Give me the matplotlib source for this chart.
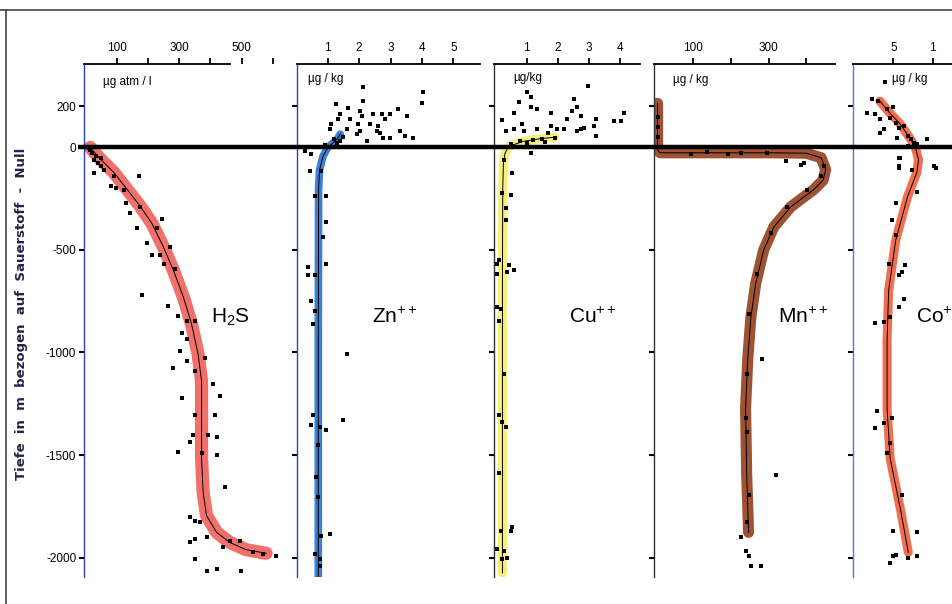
import matplotlib.pyplot as plt
from matplotlib.lines import Line2D

plt.rcParams['font.family'] = ['Liberation Sans', 'DejaVu Sans']
plt.rcParams['mathtext.fontset'] = 'custom'
plt.rcParams['mathtext.rm'] = 'Liberation Sans'
plt.rcParams['mathtext.it'] = 'Liberation Sans:italic'
plt.rcParams['axes.unicode_minus'] = False

W, H = 952, 604

# depth axis (m, relative to the oxygen zero)
depth_ticks = [200, 0, -500, -1000, -1500, -2000]
depth_labels = ['200', '0', '-500', '-1000', '-1500', '-2000']
depth_label = 'Tiefe  in  m  bezogen  auf  Sauerstoff  -  Null'

# H2S  (µg atm / l)
h2s_curve_val = [15, 49, 92, 134, 176, 213, 250, 282, 314, 340, 361, 372, 372, 372, 377, 388, 420, 462, 515, 579]
h2s_curve_depth = [0, -59, -124, -206, -288, -371, -486, -600, -731, -862, -1009, -1140, -1353, -1517, -1681, -1796, -1877, -1926, -1962, -1979]
h2s_dot_val = [10, 15, 20, 35, 50, 28, 39, 49, 60, 28, 92, 171, 81, 97, 123, 129, 144, 176, 245, 166, 229,
               197, 213, 240, 271, 250, 287, 181, 266, 298, 324, 351, 308, 324, 303, 324, 282, 383, 351,
               409, 308, 430, 351, 414, 345, 393, 420, 335, 298, 420, 372, 446, 335, 351, 367, 388, 351,
               335, 441, 494, 351, 388, 420, 499, 610, 536, 568, 462]
h2s_dot_depth = [-5, -10, -25, -40, -50, -59, -75, -92, -108, -124, -141, -141, -190, -198, -206, -272, -321,
                 -288, -351, -395, -395, -468, -526, -526, -485, -567, -591, -722, -771, -821, -845, -845,
                 -903, -935, -993, -1042, -1075, -1025, -1091, -1156, -1222, -1214, -1304, -1304, -1402,
                 -1402, -1410, -1435, -1484, -1500, -1492, -1656, -1803, -1820, -1828, -1902, -1910, -1926,
                 -1951, -1918, -2008, -2066, -2057, -2066, -1992, -1975, -1984, -1918]

# Zn++  (µg/kg)
zn_curve_val = [1.4, 1.3, 1.15, 1.0, 0.85, 0.74, 0.71, 0.70, 0.70]
zn_curve_depth = [65, 40, 20, 0, -43, -110, -200, -1000, -2095]
zn_dot_val = [2.14, 2.14, 4.05, 4.00, 1.28, 1.66, 2.03, 1.39, 2.08, 2.45, 2.72, 2.99, 3.25, 3.52, 1.34, 1.71,
              2.83, 1.12, 1.98, 2.35, 2.61, 1.60, 1.07, 2.03, 2.56, 3.31, 3.47, 2.77, 2.99, 3.73, 1.92, 2.24,
              2.67, 1.2, 1.4, 1.5, 1.3, 0.9,
              0.27, 0.48, 0.43, 0.80, 0.96, 0.59, 0.96, 0.86, 0.96, 0.38, 0.38, 0.59, 0.48, 0.59, 0.54,
              1.60, 1.50, 0.54, 0.48, 0.75, 0.96, 0.70, 0.64, 0.70, 1.07, 0.80, 0.59, 0.75, 0.75]
zn_dot_depth = [293, 228, 269, 219, 211, 192, 179, 162, 151, 162, 162, 162, 187, 151, 138, 141, 141, 113,
                113, 113, 105, 88, 88, 80, 80, 80, 56, 48, 48, 48, 64, 31, 72, 40, 30, 50, 20, 10,
                -18, -34, -116, -116, -239, -239, -362, -436, -567, -583, -624, -624, -747, -796, -862,
                -1009, -1328, -1304, -1353, -1361, -1378, -1451, -1607, -1705, -1885, -1894, -1984,
                -2008, -2041]

# Cu++  (µg/kg)
cu_curve_val = [1.9, 1.4, 0.9, 0.55, 0.4, 0.3, 0.25, 0.23, 0.22, 0.22]
cu_curve_depth = [50, 42, 30, 12, 0, -30, -80, -200, -600, -2075]
cu_dot_val = [1.02, 0.75, 1.13, 2.96, 1.13, 1.34, 0.59, 1.77, 2.53, 2.63, 2.47, 0.22, 2.31, 2.74, 3.23, 3.82,
              4.03, 4.14, 0.86, 0.32, 0.59, 0.91, 1.34, 1.77, 1.99, 2.20, 2.74, 2.85, 3.17, 3.23, 2.63,
              1.67, 0.8, 1.2, 1.5, 1.0, 1.9, 0.5, 1.6,
              0.27, 0.54, 0.22, 0.48, 0.32, 0.32, 0.11, 0.03, 0.43, 0.59, 0.38, 0.03, 0.05, 0.16, 0.11,
              0.27, 0.11, 0.22, 0.32, 0.11, 0.16, 0.54, 0.48, 0.03, 0.27, 0.38, 0.22, 1.13]
cu_dot_depth = [269, 223, 244, 301, 195, 187, 170, 170, 236, 195, 179, 134, 141, 154, 141, 129, 129, 167,
                113, 80, 88, 80, 88, 105, 88, 88, 92, 97, 105, 56, 80, 72, 30, 35, 40, 20, 45, 15, 25,
                -59, -124, -223, -231, -296, -354, -550, -567, -575, -600, -608, -616, -780, -788, -845,
                -1107, -1304, -1337, -1361, -1590, -1869, -1853, -1869, -1959, -1967, -2000, -2008, -26]

# Mn++  (µg/kg)
mn_curve_val = [5, 5, 6, 12, 100, 200, 300, 400, 440, 452, 445, 420, 359, 314, 287, 266, 253, 245, 239, 242, 247]
mn_curve_depth = [215, 0, -15, -26, -26, -26, -26, -28, -50, -108, -160, -206, -290, -388, -501, -663, -830,
                  -1027, -1273, -1597, -1877]
mn_dot_val = [5, 5, 5, 386, 394, 346, 284, 319, 226, 239, 248, 253, 279, 93, 137, 191, 226, 297, 448, 439,
              403, 350, 306, 270, 248, 244, 239, 244, 248, 244]
mn_dot_depth = [150, 100, 50, -84, -75, -67, -1034, -1599, -1902, -1967, -1992, -2041, -2041, -30, -22, -33,
                -28, -25, -92, -141, -206, -288, -419, -616, -812, -1107, -1320, -1386, -1697, -1828]

# Co+  (µg/kg)
co_curve_val = [0.33, 0.45, 0.59, 0.72, 0.78, 0.82, 0.80, 0.68, 0.53, 0.44, 0.42, 0.42, 0.46, 0.59, 0.69]
co_curve_depth = [226, 170, 113, 40, 0, -60, -120, -241, -452, -698, -943, -1273, -1518, -1764, -1975]
co_dot_val = [0.40, 0.23, 0.31, 0.16, 0.27, 0.42, 0.50, 0.33, 0.46, 0.53, 0.38, 0.33, 0.57, 0.63, 0.68,
              0.55, 0.72, 0.76, 0.93, 0.59, 0.57, 1.02, 0.68, 0.80,
              1.04, 0.57, 0.57, 0.74, 0.80, 0.53, 0.48, 0.53, 0.44, 0.65, 0.57, 0.61, 0.63, 0.57, 0.27,
              0.38, 0.46, 0.29, 0.38, 0.27, 0.48, 0.46, 0.42, 0.61, 0.50, 0.80, 0.53, 0.50, 0.68, 0.80, 0.46]
co_dot_depth = [318, 236, 228, 170, 162, 187, 195, 138, 146, 121, 88, 72, 97, 105, 56, 48, 39, 23, 39, -51,
                -92, -92, 7, 15,
                -100, -51, -100, -108, -215, -272, -354, -428, -567, -575, -624, -608, -739, -780, -858,
                -853, -829, -1287, -1345, -1369, -1320, -1443, -1492, -1697, -1869, -1877, -1989, -1992,
                -2000, -1992, -2028]

# layout in pixels: zero position, px per unit, axes left/right, end of top spine
panels = [
    dict(zero=85.5, scale=0.312, left=84, right=294, spine_end=463,
         ticks=[100, 200, 300, 400, 500, 600], labels=['100', '', '300', '', '500', ''],
         curve=(h2s_curve_val, h2s_curve_depth), dots=(h2s_dot_val, h2s_dot_depth),
         band='#f2706a', lw=9.5, spine_color='#2b3fd6',
         unit='µg atm / l', unit_xy=(103, 82), name=r'H$_2$S', name_xy=(211, 317)),
    dict(zero=296.3, scale=31.4, left=296.5, right=492, spine_end=5.85,
         ticks=[1, 2, 3, 4, 5], labels=['1', '2', '3', '4', '5'],
         curve=(zn_curve_val, zn_curve_depth), dots=(zn_dot_val, zn_dot_depth),
         band='#3d7fd6', lw=5.5, spine_color='#2b3fd6',
         unit='µg / kg', unit_xy=(308, 79), name=r'Zn$^{++}$', name_xy=(372, 317)),
    dict(zero=495.6, scale=31.1, left=494, right=651, spine_end=4.65,
         ticks=[1, 2, 3, 4], labels=['1', '2', '3', '4'],
         curve=(cu_curve_val, cu_curve_depth), dots=(cu_dot_val, cu_dot_depth),
         band='#f6f07a', lw=6.5, spine_color='#333333',
         unit='µg/kg', unit_xy=(513, 78), name=r'Cu$^{++}$', name_xy=(569, 317)),
    dict(zero=655.7, scale=0.376, left=653.5, right=850, spine_end=476,
         ticks=[100, 200, 300, 400], labels=['100', '', '300', ''],
         curve=(mn_curve_val, mn_curve_depth), dots=(mn_dot_val, mn_dot_depth),
         band='#9e5233', lw=8, spine_color='#333333',
         unit='µg / kg', unit_xy=(673, 80), name=r'Mn$^{++}$', name_xy=(778, 317)),
    dict(zero=854, scale=78.7, left=853.3, right=952, spine_end=2,
         ticks=[0.5, 1], labels=['5', '1'],
         curve=(co_curve_val, co_curve_depth), dots=(co_dot_val, co_dot_depth),
         band='#f26e50', lw=6.5, spine_color='#5a7ad8',
         unit='µg / kg', unit_xy=(892, 79), name=r'Co$^{+}$', name_xy=(916, 317)),
]

TOP, BOTTOM = 64, 577
YLIM = (-2095, 407)


def fig_xy(x, y):
    return x / W, 1 - y / H


fig = plt.figure(figsize=(W / 100, H / 100), dpi=100)

for i, p in enumerate(panels):
    ax = fig.add_axes([p['left'] / W, 1 - BOTTOM / H, (p['right'] - p['left']) / W, (BOTTOM - TOP) / H])
    ax.patch.set_alpha(0)
    xmin = (p['left'] - p['zero']) / p['scale']
    xmax = (p['right'] - p['zero']) / p['scale']
    ax.set_xlim(xmin, xmax)
    ax.set_ylim(*YLIM)

    ax.plot(p['curve'][0], p['curve'][1], color=p['band'], lw=p['lw'],
            solid_capstyle='round', solid_joinstyle='round', zorder=2)
    ax.plot(p['curve'][0], p['curve'][1], color='black', lw=0.7, zorder=3)
    ax.scatter(p['dots'][0], p['dots'][1], s=6, marker='s', color='black', linewidths=0, zorder=4)

    for side in ['right', 'bottom']:
        ax.spines[side].set_visible(False)
    ax.spines['top'].set_bounds(xmin, p['spine_end'])
    ax.spines['top'].set_linewidth(1.3)
    ax.spines['left'].set_color(p['spine_color'])
    ax.spines['left'].set_linewidth(1.0)

    ax.xaxis.tick_top()
    ax.set_xticks(p['ticks'])
    ax.set_xticklabels(p['labels'])
    ax.tick_params(axis='x', direction='out', length=4, width=1.3, pad=3, labelsize=8.5)
    ax.set_yticks(depth_ticks)
    if i == 0:
        ax.set_yticklabels(depth_labels)
    else:
        ax.set_yticklabels([])
    ax.tick_params(axis='y', direction='out', length=3.5, width=1.5, pad=2, labelsize=8.5)

    ux, uy = fig_xy(*p['unit_xy'])
    fig.text(ux, uy, p['unit'], fontsize=8.5, ha='left', va='center')
    nx, ny = fig_xy(*p['name_xy'])
    fig.text(nx, ny, p['name'], fontsize=15, ha='left', va='center')

# the oxygen-zero line across all panels, starting just right of the "0" label
zx0 = 78 / W
ax0 = fig.add_axes([zx0, 1 - BOTTOM / H, 1 - zx0, (BOTTOM - TOP) / H], zorder=10)
ax0.set_ylim(*YLIM)
ax0.axis('off')
ax0.axhline(0, color='black', lw=3.2)

lx, ly = fig_xy(22, 314)
fig.text(lx, ly, depth_label, rotation=90, ha='center', va='center', fontsize=9.5,
         fontweight='bold', family='DejaVu Sans', color='#22224a')

# scan frame
fig.add_artist(Line2D([0, 1], [1 - 10 / H, 1 - 10 / H], color='#444444', lw=1.2))
fig.add_artist(Line2D([6 / W, 6 / W], [0, 1 - 10 / H], color='#444444', lw=1.2))

fig.savefig('out.png', dpi=100)
